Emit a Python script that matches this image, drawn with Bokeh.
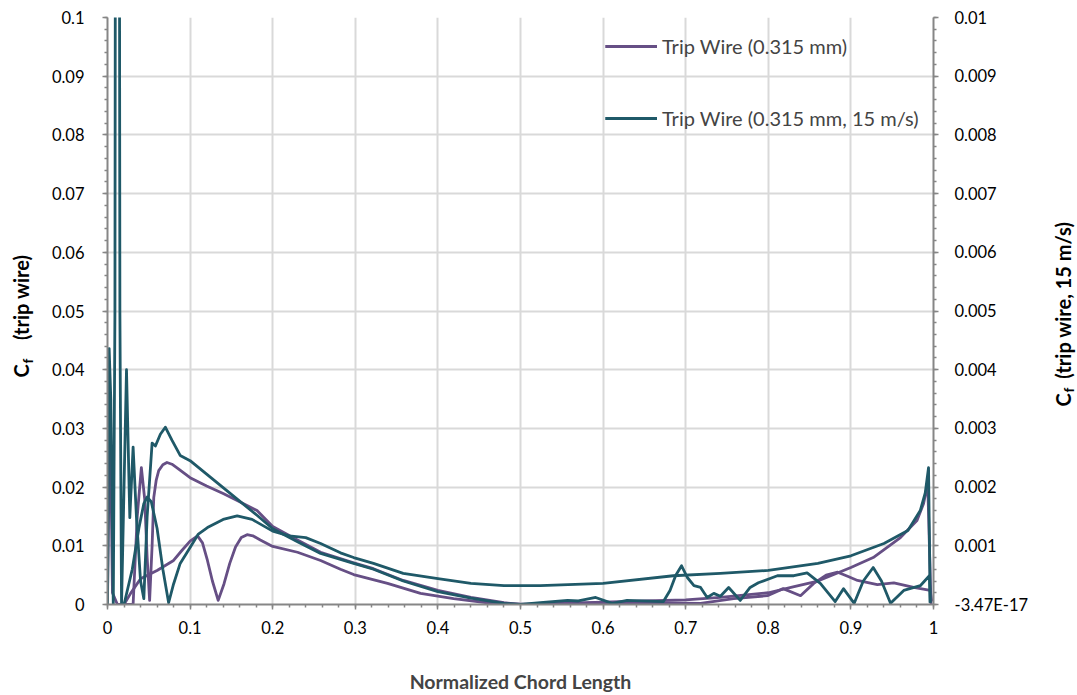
import math
from bokeh.plotting import figure
from bokeh.models import Range1d, LinearAxis, FixedTicker, Label, Legend, LegendItem
from bokeh.embed import file_html
from bokeh.resources import INLINE

FONT = "Lato"
PURPLE = "#664f85"
TEAL = "#1f5968"

# ---------------- data ----------------
x_ticks = [0, 0.1, 0.2, 0.3, 0.4, 0.5, 0.6, 0.7, 0.8, 0.9, 1.0]
x_tick_labels = ["0", "0.1", "0.2", "0.3", "0.4", "0.5", "0.6", "0.7", "0.8", "0.9", "1"]
left_ticks = [0, 0.01, 0.02, 0.03, 0.04, 0.05, 0.06, 0.07, 0.08, 0.09, 0.1]
left_tick_labels = ["0", "0.01", "0.02", "0.03", "0.04", "0.05", "0.06", "0.07", "0.08", "0.09", "0.1"]
right_ticks = [0, 0.001, 0.002, 0.003, 0.004, 0.005, 0.006, 0.007, 0.008, 0.009, 0.01]
right_tick_labels = ["-3.47E-17", "0.001", "0.002", "0.003", "0.004", "0.005",
                     "0.006", "0.007", "0.008", "0.009", "0.01"]

# Trip Wire (0.315 mm) -- left axis
purple_a_x = [0.0, 0.003, 0.006, 0.012, 0.02, 0.031, 0.036, 0.041, 0.045, 0.048, 0.051, 0.054,
              0.056, 0.059, 0.062, 0.067, 0.072, 0.078, 0.085, 0.1, 0.12, 0.14, 0.16, 0.181,
              0.2, 0.23, 0.258, 0.298, 0.322, 0.358, 0.4, 0.44, 0.48, 0.5, 0.55, 0.6, 0.65,
              0.7, 0.742, 0.8, 0.83, 0.86, 0.9, 0.927, 0.96, 0.98, 0.988, 0.993, 0.997]
purple_a_y = [0.0005, 0.035, 0.002, 0.0, 0.0, 0.0, 0.015, 0.0233, 0.018, 0.008, 0.0007, 0.01,
              0.0182, 0.0212, 0.0228, 0.0238, 0.0242, 0.0239, 0.0232, 0.0216, 0.0202, 0.0189,
              0.0175, 0.016, 0.0133, 0.011, 0.0089, 0.0071, 0.0061, 0.0041, 0.0024, 0.0012,
              0.0003, 0.0, 0.0002, 0.0004, 0.0006, 0.0008, 0.0012, 0.002, 0.003, 0.004, 0.0063,
              0.008, 0.0114, 0.0143, 0.0172, 0.0206, 0.0]
purple_b_x = [0.02, 0.028, 0.04, 0.06, 0.08, 0.09, 0.1, 0.109, 0.115, 0.121, 0.127, 0.134,
              0.141, 0.148, 0.155, 0.162, 0.169, 0.176, 0.185, 0.2, 0.23, 0.258, 0.282, 0.298,
              0.339, 0.379, 0.419, 0.46, 0.48, 0.52, 0.6, 0.65, 0.718, 0.758, 0.799, 0.818,
              0.839, 0.855, 0.87, 0.884, 0.896, 0.908, 0.932, 0.952, 0.976, 0.996, 0.998]
purple_b_y = [0.0, 0.0019, 0.0044, 0.0058, 0.0075, 0.0092, 0.0108, 0.0117, 0.0105, 0.0075,
              0.004, 0.0007, 0.0035, 0.007, 0.0098, 0.0114, 0.0119, 0.0117, 0.011, 0.0099,
              0.0089, 0.0075, 0.006, 0.0051, 0.0036, 0.0019, 0.001, 0.0003, 0.0001, 0.0,
              0.0003, 0.0003, 0.0002, 0.001, 0.0015, 0.0027, 0.0015, 0.0036, 0.005, 0.0055,
              0.0048, 0.0041, 0.0034, 0.0037, 0.0029, 0.0024, 0.0005]

# Trip Wire (0.315 mm, 15 m/s) -- right axis
teal_a_x = [0.0, 0.002, 0.004, 0.007, 0.009, 0.011, 0.013, 0.015, 0.017, 0.02, 0.023, 0.027,
            0.031, 0.035, 0.04, 0.044, 0.048, 0.054, 0.058, 0.064, 0.07, 0.078, 0.088, 0.1,
            0.12, 0.14, 0.16, 0.181, 0.2, 0.23, 0.258, 0.298, 0.322, 0.358, 0.4, 0.44, 0.48,
            0.5, 0.524, 0.557, 0.57, 0.591, 0.611, 0.629, 0.673, 0.681, 0.688, 0.695, 0.702,
            0.71, 0.718, 0.726, 0.734, 0.742, 0.752, 0.766, 0.778, 0.788, 0.811, 0.831, 0.847,
            0.863, 0.881, 0.891, 0.904, 0.915, 0.927, 0.937, 0.948, 0.964, 0.984, 0.995, 0.996]
teal_a_y = [0.0, 0.00436, 0.0035, 0.0, 0.005, 0.03, 0.03, 0.005, 0.0, 0.002, 0.004, 0.00148,
            0.00268, 0.0015, 0.0004, 0.0001, 0.0015, 0.00275, 0.0027, 0.0029, 0.00302, 0.0028,
            0.00254, 0.00245, 0.00222, 0.00199, 0.00176, 0.00152, 0.00129, 0.00107, 0.00087,
            0.0007, 0.0006, 0.0004, 0.00022, 0.00011, 0.00002, 0.0, 0.00003, 0.00007, 0.00006,
            0.00012, 0.00002, 0.00007, 0.00005, 0.00024, 0.0005, 0.00066, 0.00046, 0.00032,
            0.00029, 0.00012, 0.00019, 0.00014, 0.00029, 0.00007, 0.00029, 0.00037, 0.00049,
            0.00049, 0.00054, 0.00036, 0.00005, 0.00027, 0.00002, 0.0004, 0.00063, 0.0004,
            0.00002, 0.00024, 0.00032, 0.00049, 0.00003]
teal_b_x = [0.02, 0.03, 0.038, 0.044, 0.048, 0.053, 0.06, 0.067, 0.074, 0.08, 0.088, 0.1, 0.11,
            0.121, 0.14, 0.157, 0.175, 0.2, 0.22, 0.24, 0.258, 0.282, 0.298, 0.322, 0.358, 0.4,
            0.44, 0.48, 0.524, 0.6, 0.685, 0.742, 0.8, 0.86, 0.9, 0.94, 0.969, 0.984, 0.99,
            0.994, 0.996]
teal_b_y = [0.0, 0.0006, 0.0013, 0.00172, 0.00183, 0.00175, 0.0013, 0.0006, 0.00003, 0.00035,
            0.0007, 0.00097, 0.0012, 0.00131, 0.00145, 0.00151, 0.00145, 0.00125, 0.00117,
            0.00114, 0.00104, 0.00088, 0.0008, 0.0007, 0.00053, 0.00044, 0.00036, 0.00032,
            0.00032, 0.00036, 0.00049, 0.00053, 0.00058, 0.0007, 0.00083, 0.00104, 0.00126,
            0.0016, 0.0019, 0.00233, 0.00003]

series_labels = ["Trip Wire (0.315 mm)", "Trip Wire (0.315 mm, 15 m/s)"]
x_title = "Normalized Chord Length"
left_title = ("C", "f", "(trip wire)")
right_title = ("C", "f", "(trip wire, 15 m/s)")

# ---------------- figure ----------------
p = figure(width=1077, height=695, x_range=Range1d(0, 1), y_range=Range1d(0, 0.1),
           output_backend="svg", toolbar_location=None,
           min_border_left=107, min_border_right=144, min_border_top=17, min_border_bottom=91)
p.extra_y_ranges = {"right": Range1d(0, 0.01)}
p.outline_line_color = None
p.background_fill_color = "white"
p.border_fill_color = "white"

AX_COLOR = "#868686"

def style_axis(ax):
    ax.axis_line_color = AX_COLOR
    ax.axis_line_width = 2
    ax.major_tick_line_color = AX_COLOR
    ax.minor_tick_line_color = AX_COLOR
    ax.major_tick_line_width = 1.5
    ax.minor_tick_line_width = 1.5
    ax.major_tick_out = 5
    ax.major_tick_in = 0
    ax.minor_tick_out = 3
    ax.minor_tick_in = 0
    ax.major_label_text_font = FONT
    ax.major_label_text_font_size = "16.5px"
    ax.major_label_text_color = "#000000"

xa = p.xaxis[0]
style_axis(xa)
xa.ticker = FixedTicker(ticks=x_ticks, minor_ticks=[i / 50 for i in range(51)])
xa.major_label_overrides = dict(zip(x_ticks, x_tick_labels))
xa.major_label_standoff = 11
xa.axis_label = x_title
xa.axis_label_text_font = FONT
xa.axis_label_text_font_style = "bold"
xa.axis_label_text_font_size = "19.5px"
xa.axis_label_standoff = 33

ya = p.yaxis[0]
style_axis(ya)
ya.ticker = FixedTicker(ticks=left_ticks, minor_ticks=[i / 500 for i in range(51)])
ya.major_label_overrides = dict(zip(left_ticks, left_tick_labels))
ya.major_label_standoff = 18

yr = LinearAxis(y_range_name="right")
style_axis(yr)
yr.ticker = FixedTicker(ticks=right_ticks, minor_ticks=[i / 5000 for i in range(51)])
yr.major_label_overrides = dict(zip(right_ticks, right_tick_labels))
yr.major_label_standoff = 16
p.add_layout(yr, "right")

p.xgrid.ticker = FixedTicker(ticks=x_ticks)
p.ygrid.ticker = FixedTicker(ticks=left_ticks)
for g in (p.xgrid[0], p.ygrid[0]):
    g.grid_line_color = "#d9d9d9"
    g.grid_line_width = 2

# ---------------- lines ----------------
LW = 2.8
r1 = p.line(purple_a_x, purple_a_y, line_color=PURPLE, line_width=LW, line_join="round")
r2 = p.line(purple_b_x, purple_b_y, line_color=PURPLE, line_width=LW, line_join="round")
r3 = p.line(teal_a_x, teal_a_y, line_color=TEAL, line_width=LW, line_join="round", y_range_name="right")
r4 = p.line(teal_b_x, teal_b_y, line_color=TEAL, line_width=LW, line_join="round", y_range_name="right")

legend = Legend(items=[LegendItem(label=series_labels[0], renderers=[r1, r2]),
                       LegendItem(label=series_labels[1], renderers=[r3, r4])],
                location=(498, 474))
legend.background_fill_alpha = 0
legend.border_line_alpha = 0
legend.padding = 0
legend.margin = 0
legend.spacing = 48
legend.glyph_width = 52
legend.glyph_height = 20
legend.label_height = 20
legend.label_standoff = 5
legend.label_text_font = FONT
legend.label_text_font_size = "20px"
p.add_layout(legend, "center")

# ---------------- y-axis titles with subscript (in side panels) ----------------
def px_x(px):
    return (px - 107) / 826.0

def px_y(py):
    return (604 - py) / 5870.0

NB = "\u00a0"
common = dict(angle=math.pi / 2, text_font=FONT, text_font_style="bold",
              text_align="left", text_baseline="middle", text_color="#000000")
p.add_layout(Label(x=px_x(20), y=px_y(377), text=left_title[0] + NB * 5 + left_title[2],
                   text_font_size="20px", **common), "left")
p.add_layout(Label(x=px_x(27), y=px_y(363), text=left_title[1],
                   text_font_size="13.5px", **common), "left")

p.add_layout(Label(x=px_x(1062), y=px_y(406), text=right_title[0] + NB * 3 + right_title[2],
                   text_font_size="20px", **common), "right")
p.add_layout(Label(x=px_x(1068), y=px_y(392), text=right_title[1],
                   text_font_size="13.5px", **common), "right")

open("out.html", "w").write(file_html(p, INLINE))
